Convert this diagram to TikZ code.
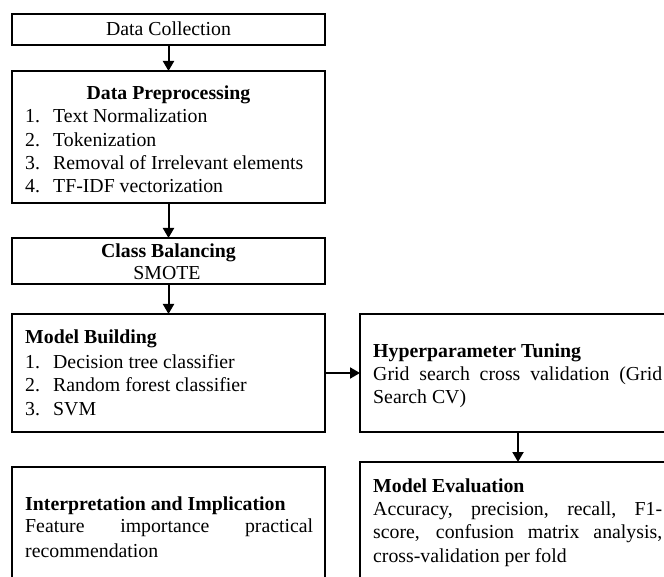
\documentclass[tikz,border=0pt]{standalone}
\usepackage{fontspec}
\setmainfont{Liberation Serif}
\usetikzlibrary{arrows.meta}
\begin{document}
\begin{tikzpicture}[x=1pt,y=-1pt,
  box/.style={draw, line width=2pt, rectangle, inner sep=0pt, outer sep=0pt, anchor=north west},
  txt/.style={inner sep=0pt, anchor=base west, font=\fontsize{19.8}{23}\selectfont},
  head/.style={txt, font=\fontsize{19.8}{23}\selectfont\bfseries},
  arr/.style={line width=2pt, -{Triangle[length=10pt,width=11pt]}}]
\useasboundingbox (0,0) rectangle (664,577);
\fill[white] (0,0) rectangle (664,577);
\clip (0,0) rectangle (664,577);

% boxes of the workflow
\node[box, minimum width=313pt, minimum height=31pt]  (dc) at (12,14) {};
\node[box, minimum width=313pt, minimum height=132pt] (dp) at (12,71) {};
\node[box, minimum width=313pt, minimum height=46pt]  (cb) at (12,238) {};
\node[box, minimum width=313pt, minimum height=118pt] (mb) at (12,314) {};
\node[box, minimum width=313pt, minimum height=140pt] (ii) at (12,467) {};
\node[box, minimum width=316pt, minimum height=118pt] (hp) at (360,314) {};
\node[box, minimum width=316pt, minimum height=140pt] (me) at (360,462) {};

% connectors
\draw[arr] (dc) -- (dp);
\draw[arr] (dp) -- (cb);
\draw[arr] (cb) -- (mb);
\draw[arr] (mb) -- (hp);
\draw[arr] (hp) -- (me);

% Data Collection
\node[txt, anchor=base] (dct) at (168.5,36) {Data Collection};

% Data Preprocessing
\node[head, anchor=base] (dph) at (168.5,100) {Data Preprocessing};
\node[txt] (dpn1) at (25,123) {1.};
\node[txt] (dpi1) at (53,123) {Text Normalization};
\node[txt] (dpn2) at (25,147) {2.};
\node[txt] (dpi2) at (53,147) {Tokenization};
\node[txt] (dpn3) at (25,170) {3.};
\node[txt] (dpi3) at (53,170) {Removal of Irrelevant elements};
\node[txt] (dpn4) at (25,193) {4.};
\node[txt] (dpi4) at (53,193) {TF-IDF vectorization};

% Class Balancing
\node[head, anchor=base] (cbh) at (168.5,258) {Class Balancing};
\node[txt, anchor=base] (cbt) at (167,280) {SMOTE};

% Model Building
\node[head] (mbh) at (25,343) {Model Building};
\node[txt] (mbn1) at (25,368) {1.};
\node[txt] (mbi1) at (53,368) {Decision tree classifier};
\node[txt] (mbn2) at (25,391) {2.};
\node[txt] (mbi2) at (53,391) {Random forest classifier};
\node[txt] (mbn3) at (25,415) {3.};
\node[txt] (mbi3) at (53,415) {SVM};

% Interpretation and Implication
\node[head] (iih) at (25,510) {Interpretation and Implication};
\node[txt] (ii1) at (25,532) {\makebox[288pt][s]{Feature importance practical}};
\node[txt] (ii2) at (25,557) {recommendation};

% Hyperparameter Tuning
\node[head] (hph) at (373,357) {Hyperparameter Tuning};
\node[txt] (hp1) at (373,380) {\makebox[289pt][s]{Grid search cross validation (Grid}};
\node[txt] (hp2) at (373,403) {Search CV)};

% Model Evaluation
\node[head] (meh) at (373,492) {Model Evaluation};
\node[txt] (me1) at (373,515) {\makebox[289pt][s]{Accuracy, precision, recall, F1-}};
\node[txt] (me2) at (373,538) {\makebox[289pt][s]{score, confusion matrix analysis,}};
\node[txt] (me3) at (373,562) {cross-validation per fold};
\end{tikzpicture}
\end{document}
